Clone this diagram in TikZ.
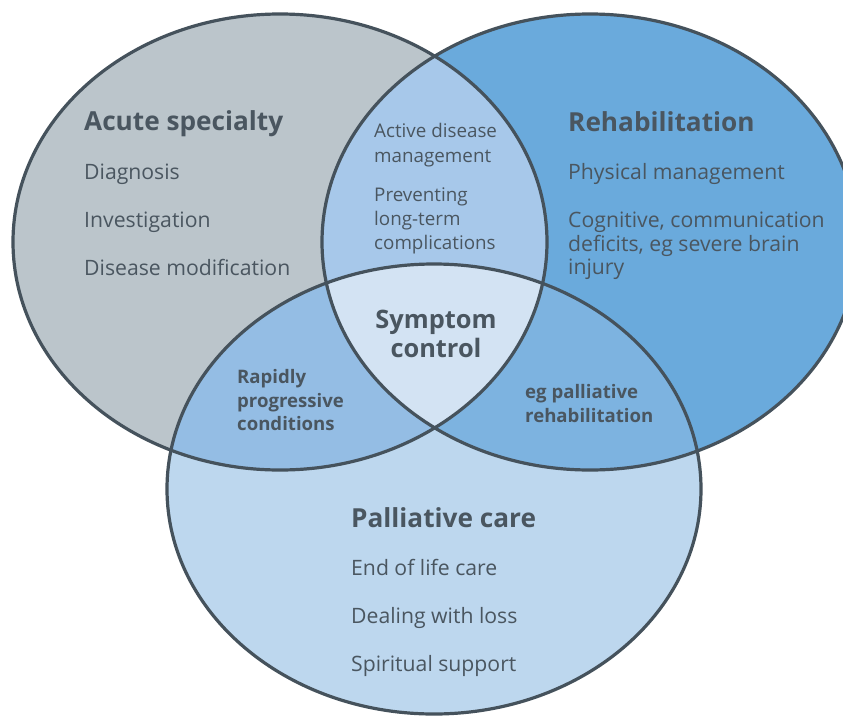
\documentclass[tikz,border=0pt]{standalone}
\usepackage{fontspec}
\setmainfont{Open Sans}
\definecolor{cL}{HTML}{BBC5CB}
\definecolor{cR}{HTML}{6AAADC}
\definecolor{cB}{HTML}{BDD7EE}
\definecolor{cLR}{HTML}{A7C8EA}
\definecolor{cLB}{HTML}{94BDE4}
\definecolor{cRB}{HTML}{7DB3E0}
\definecolor{cLRB}{HTML}{D3E3F3}
\definecolor{edge}{HTML}{45525C}
\definecolor{textc}{HTML}{4A5660}
\def\EL{(280,242) ellipse [x radius=267, y radius=228]}
\def\ER{(590,242) ellipse [x radius=268, y radius=228]}
\def\EB{(434,489) ellipse [x radius=267, y radius=225]}
\tikzset{
  itm/.style={anchor=base west, inner sep=0pt, text=textc, font=\fontsize{21.2}{24}\selectfont},
  sitm/.style={itm, font=\fontsize{18.8}{22}\selectfont},
  ttl/.style={itm, font=\fontsize{26.2}{30}\selectfont\bfseries},
  sttl/.style={itm, font=\fontsize{18.6}{22}\selectfont\bfseries},
  ctr/.style={anchor=base, inner sep=0pt, text=textc, font=\fontsize{25.4}{30}\selectfont\bfseries},
  outline/.style={draw=edge, line width=3.2pt}
}
\begin{document}
\begin{tikzpicture}[x=1pt, y=-1pt]
\clip (0,0) rectangle (843,715);
% base fills
\fill[cL] \EL;
\fill[cR] \ER;
\fill[cB] \EB;
% pairwise intersections
\begin{scope}
  \clip \EL;
  \fill[cLR] \ER;
\end{scope}
\begin{scope}
  \clip \EL;
  \fill[cLB] \EB;
\end{scope}
\begin{scope}
  \clip \ER;
  \fill[cRB] \EB;
\end{scope}
\begin{scope}
  \clip \EL;
  \clip \ER;
  \fill[cLRB] \EB;
\end{scope}
% outlines
\path[outline] \EL;
\path[outline] \ER;
\path[outline] \EB;
% Acute specialty
\node[ttl] (acute) at (84,130) {Acute specialty};
\node[itm] (diag) at (84,179) {Diagnosis};
\node[itm] (inv) at (84,227) {Investigation};
\node[itm] (dismod) at (84,275) {Disease modification};
% top lens
\node[sitm] (act1) at (374,137.5) {Active disease};
\node[sitm] (act2) at (374,162) {management};
\node[sitm] (prev1) at (374,201.5) {Preventing};
\node[sitm] (prev2) at (374,225.5) {long-term};
\node[sitm] (prev3) at (374,249.5) {complications};
% Rehabilitation
\node[ttl] (rehab) at (568,131) {Rehabilitation};
\node[itm] (phys) at (568,179) {Physical management};
\node[itm] (cog1) at (568,227) {Cognitive, communication};
\node[itm] (cog2) at (568,251) {deficits, eg severe brain};
\node[itm] (cog3) at (568,274.5) {injury};
% centre
\node[ctr] (sym1) at (436,328) {Symptom};
\node[ctr] (sym2) at (436,357) {control};
% left-bottom lens
\node[sttl] (rap1) at (237,383) {Rapidly};
\node[sttl] (rap2) at (237,407) {progressive};
\node[sttl] (rap3) at (237,430) {conditions};
% right-bottom lens
\node[sttl] (pr1) at (525,398) {eg palliative};
\node[sttl] (pr2) at (525,422) {rehabilitation};
% Palliative care
\node[ttl] (pall) at (351,527) {Palliative care};
\node[itm] (eol) at (351,575) {End of life care};
\node[itm] (loss) at (351,623) {Dealing with loss};
\node[itm] (spir) at (351,671) {Spiritual support};
\end{tikzpicture}
\end{document}
